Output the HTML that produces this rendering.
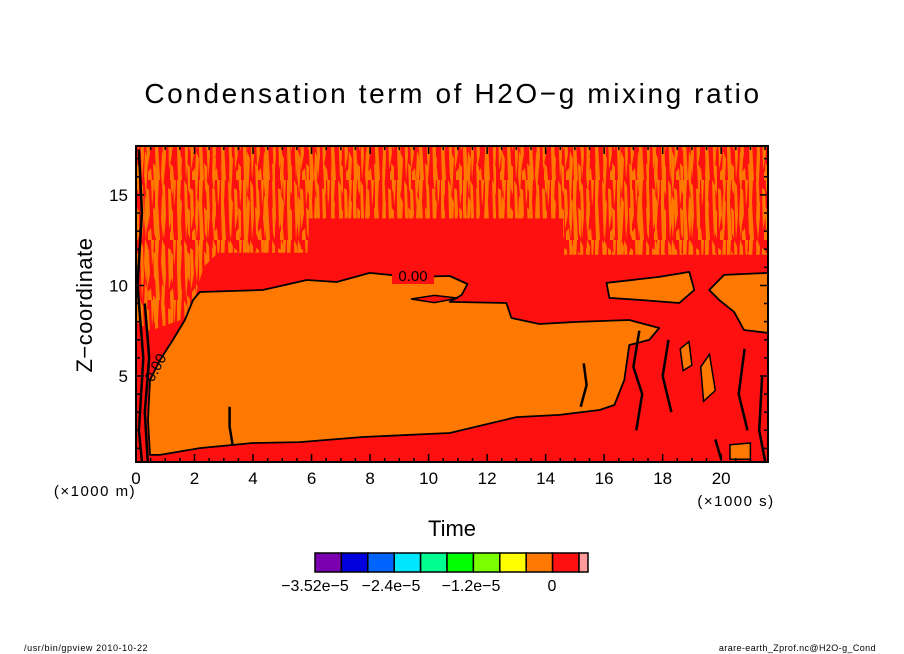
<!DOCTYPE html>
<html><head><meta charset="utf-8"><style>
body{margin:0;background:#fff;}
svg{display:block;font-family:"Liberation Sans",sans-serif;}
</style></head><body>
<svg id="chart" width="904" height="654" viewBox="0 0 904 654" xmlns="http://www.w3.org/2000/svg">
<defs>
<clipPath id="plotClip"><rect x="136" y="146" width="632" height="316"/></clipPath>
<pattern id="streaks" width="22" height="60" patternUnits="userSpaceOnUse">
<rect width="22" height="60" fill="#ff1010"/>
<path d="M1 0 L5 0 L4 22 L6 60 L2 60 L1 30 Z M8 0 L11 6 L12 36 L10 60 L9 36 Z M14 8 L17 10 L18 34 L15 50 Z M19 0 L22 0 L21 18 L20 26 Z M16 52 L19 48 L20 60 L16 60 Z" fill="#ff7800"/>
</pattern>
<pattern id="streaks2" width="17" height="44" patternUnits="userSpaceOnUse" x="7" y="19">
<path d="M2 0 L5 8 L4 28 L3 44 L1 24 Z M10 12 L13 16 L13 44 L11 38 Z" fill="#ff7800"/>
</pattern>
</defs>
<text x="453" y="103" font-size="28" text-anchor="middle" letter-spacing="2.6">Condensation term of H2O−g mixing ratio</text>
<g id="plot" clip-path="url(#plotClip)"></g>
<g id="axes"></g>
<text transform="translate(92,305) rotate(-90)" font-size="22" text-anchor="middle" letter-spacing="0.5">Z−coordinate</text>
<text x="452" y="536" font-size="22" text-anchor="middle">Time</text>
<text x="95" y="496" font-size="15" text-anchor="middle" letter-spacing="1.5">(×1000 m)</text>
<text x="736" y="506" font-size="15" text-anchor="middle" letter-spacing="1.5">(×1000 s)</text>
<g id="colorbar"></g>
<text x="24" y="651" font-size="9" letter-spacing="0.6">/usr/bin/gpview   2010-10-22</text>
<text x="876" y="651" font-size="9" text-anchor="end" letter-spacing="0.4">arare-earth_Zprof.nc@H2O-g_Cond</text>
</svg>
<script>
const xDomain=[0,21.6], zDomain=[0.25,17.7];
const xTicks=[0,2,4,6,8,10,12,14,16,18,20];
const zTicks=[5,10,15];
const streakRegion=[[0,17.7],[21.6,17.7],[21.6,11.7],[14.6,11.7],[14.6,13.7],[5.9,13.7],[5.9,11.8],[2.8,11.8],[2.3,11.0],[1.84,8.26],[0.48,7.5],[0,8]];
const orangeMain=[[0.48,4.78],[0.82,5.88],[1.26,6.99],[1.67,8.09],[1.95,9.2],[2.18,9.64],[4.33,9.75],[5.84,10.3],[6.86,10.19],[7.99,10.69],[9.35,10.47],[10.72,10.52],[11.33,10.08],[11.13,9.48],[10.72,9.09],[12.66,9.03],[12.83,8.2],[13.79,7.87],[14.98,7.98],[16.86,8.09],[17.88,7.65],[17.54,6.99],[16.86,6.71],[16.69,4.78],[16.35,3.4],[15.84,3.12],[14.47,2.85],[13.0,2.73],[10.72,1.85],[7.75,1.63],[5.6,1.35],[3.99,1.3],[2.18,1.02],[0.82,0.64],[0.48,0.64],[0.41,2.57]];
const orangeTongue=[[16.08,10.14],[17.88,10.47],[18.91,10.75],[19.08,9.75],[18.57,9.03],[17.2,9.2],[16.18,9.31]];
const orangeRight=[[19.59,9.75],[20.1,10.58],[21.6,10.69],[21.6,7.38],[20.78,7.54],[20.44,8.54],[19.93,9.2]];
const redLens=[[9.4,9.25],[10.2,9.45],[11.0,9.3],[10.2,9.05]];
const orangeSmall=[[[19.3,5.5],[19.6,6.2],[19.8,4.2],[19.4,3.6]],[[20.3,1.2],[21.0,1.3],[21.0,0.4],[20.3,0.4]],[[18.6,6.5],[18.9,6.9],[19.0,5.6],[18.7,5.3]]];
const darkScribbles=[[[0.1,17.5],[0.2,14],[0.05,10],[0.25,6],[0.1,2],[0.2,0.3]],[[0.3,9],[0.45,6],[0.3,3],[0.4,0.3]],[[3.2,3.3],[3.2,2.2],[3.3,1.2]],[[17.2,7.5],[17.0,5.5],[17.3,4],[17.1,2]],[[18.2,7],[18.0,5],[18.3,3]],[[20.8,6.5],[20.6,4],[20.9,2]],[[21.4,5],[21.3,2],[21.5,0.3]],[[15.3,5.7],[15.4,4.5],[15.2,3.3]],[[19.8,1.5],[20.0,0.4]]];
const cbColors=["#7a00b0","#0000dc","#0064ff","#00e6ff","#00ff90","#00ff00","#7aff00","#ffff00","#ff7800","#ff1010","#ff9a9a"];
const cbLabels=["−3.52e−5","−2.4e−5","−1.2e−5","0"];
const cbLabelX=[315,391,471,552];

const X=t=>136+(t-xDomain[0])/(xDomain[1]-xDomain[0])*632;
const Y=z=>462-(z-zDomain[0])/(zDomain[1]-zDomain[0])*316;
const NS="http://www.w3.org/2000/svg";
function mk(tag,attrs,parent){const e=document.createElementNS(NS,tag);for(const k in attrs)e.setAttribute(k,attrs[k]);parent.appendChild(e);return e;}
const pts=a=>a.map(p=>X(p[0]).toFixed(1)+","+Y(p[1]).toFixed(1)).join(" ");
const plot=document.getElementById('plot');
let bg=mk('rect',{x:136,y:146,width:632,height:316,fill:'#ff1010'},plot);


let st=mk('polygon',{points:pts(streakRegion),fill:'url(#streaks)'},plot);


let st2=mk('polygon',{points:pts(streakRegion),fill:'url(#streaks2)'},plot);


[[orangeMain,'orange-main-region'],[orangeTongue,'orange-tongue-region'],[orangeRight,'orange-right-region']].forEach(([a,n])=>{
 let p=mk('polygon',{points:pts(a),fill:'#ff7800',stroke:'#000','stroke-width':1.8,'stroke-linejoin':'round'},plot);
 
 
});
orangeSmall.forEach(a=>{
 let p=mk('polygon',{points:pts(a),fill:'#ff7800',stroke:'#000','stroke-width':1.5},plot);
 
 
});
let lens=mk('polygon',{points:pts(redLens),fill:'#ff1010',stroke:'#000','stroke-width':1.5},plot);


darkScribbles.forEach(a=>{
 let p=mk('polyline',{points:pts(a),fill:'none',stroke:'#000','stroke-width':2.5},plot);
 
 
});
let lb=mk('rect',{x:392,y:266,width:42,height:18,fill:'#ff1010'},plot);


let l1=mk('text',{x:413,y:281,'font-size':15,'text-anchor':'middle'},plot);
l1.textContent='0.00';


let l2=mk('text',{x:0,y:0,'font-size':15,'text-anchor':'middle',transform:'translate(160,370) rotate(-62)'},plot);
l2.textContent='0.00';



const axes=document.getElementById('axes');
let fr=mk('rect',{x:136,y:146,width:632,height:316,fill:'none',stroke:'#000','stroke-width':2},axes);


let tk='';
for(let t=0;t<=21.5;t+=0.5){const major=Math.abs(t%2)<1e-6;const L=major?8:4;const x=X(t);tk+=`M${x} 462v${-L}M${x} 146v${L}`;}
for(let z=1;z<=17;z++){const major=z%5===0;const L=major?8:4;const y=Y(z);tk+=`M136 ${y}h${L}M768 ${y}h${-L}`;}
let tp=mk('path',{d:tk,stroke:'#000','stroke-width':1.5,fill:'none'},axes);


xTicks.forEach(t=>{let e=mk('text',{x:X(t),y:484,'font-size':17,'text-anchor':'middle'},axes);e.textContent=t;
 
 });
zTicks.forEach(z=>{let e=mk('text',{x:128,y:Y(z)+6,'font-size':17,'text-anchor':'end'},axes);e.textContent=z;
 
 });

const cb=document.getElementById('colorbar');
const cbX=315,cbW=26.4;
cbColors.forEach((c,i)=>{const w=i===cbColors.length-1?9:cbW;
 let r=mk('rect',{x:cbX+i*cbW,y:553,width:w,height:19,fill:c,stroke:'#000','stroke-width':1.5},cb);
 
 });
cbLabels.forEach((s,i)=>{let e=mk('text',{x:cbLabelX[i],y:591,'font-size':16,'text-anchor':'middle'},cb);e.textContent=s;
 
 });
</script>
</body></html>
